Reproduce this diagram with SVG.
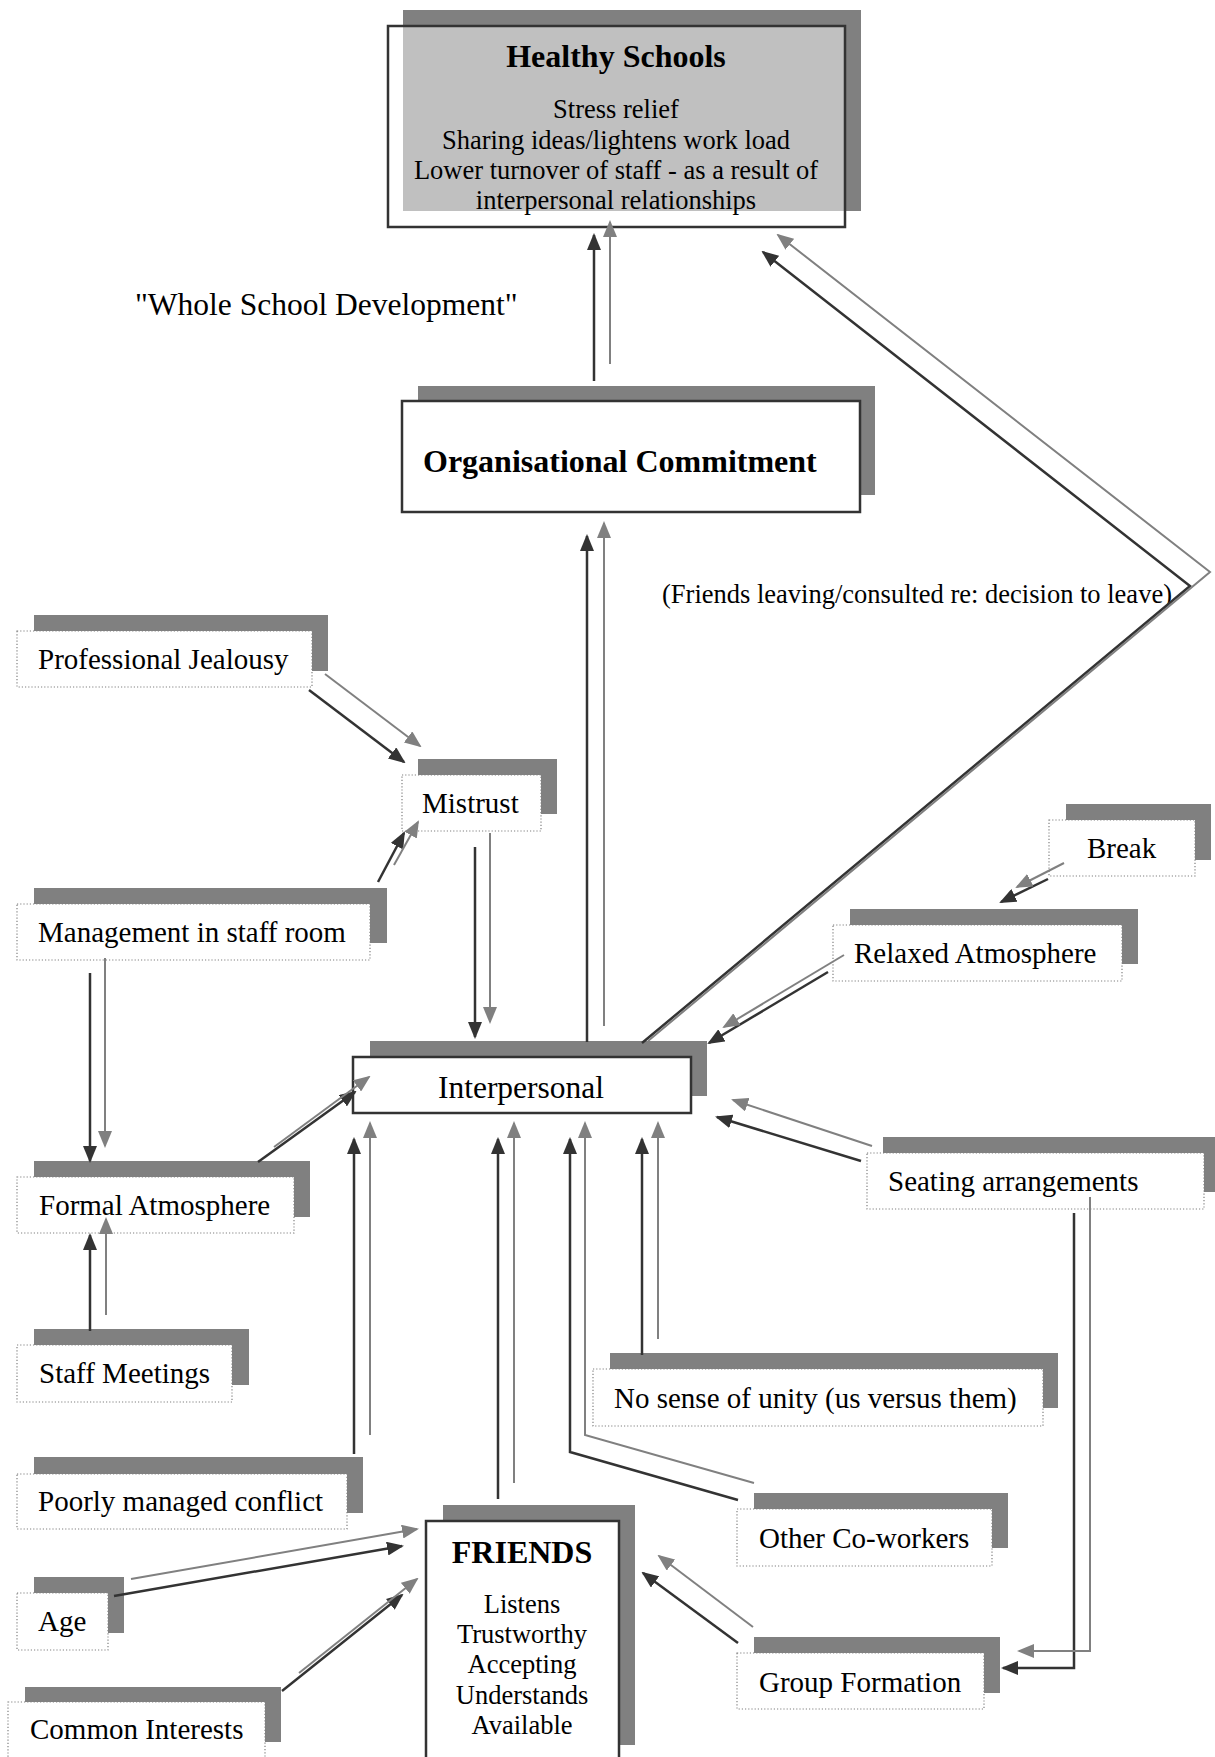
<svg xmlns="http://www.w3.org/2000/svg" width="1215" height="1757" viewBox="0 0 1215 1757">
  <style>
    .shadow { fill: #808080; }
    .box { fill: #ffffff; stroke: #808080; stroke-width: 1.2; stroke-dasharray: 1.2 2; }
    .main { fill: #ffffff; stroke: #333333; stroke-width: 2.5; }
    .outline { fill: none; stroke: #333333; stroke-width: 2.5; }
    text { font-family: "Liberation Serif", "Times New Roman", serif; fill: #000000; }
    .lbl { font-size: 29px; }
    .sm { font-size: 26.5px; }
    .big { font-size: 31.5px; }
    .title { font-size: 32px; font-weight: bold; }
    .mid { text-anchor: middle; }
    .dk { fill: none; stroke: #333333; stroke-width: 2.5; marker-end: url(#ahd); }
    .gr { fill: none; stroke: #808080; stroke-width: 2; marker-end: url(#ahg); }
  </style>
  <defs>
    <marker id="ahd" markerUnits="userSpaceOnUse" markerWidth="17" markerHeight="14" refX="15" refY="7" orient="auto">
      <path d="M0,0 L17,7 L0,14 z" fill="#333333"/>
    </marker>
    <marker id="ahg" markerUnits="userSpaceOnUse" markerWidth="17" markerHeight="14" refX="15" refY="7" orient="auto">
      <path d="M0,0 L17,7 L0,14 z" fill="#808080"/>
    </marker>
  </defs>

  <rect width="1215" height="1757" fill="#ffffff"/>

  <!-- top outcome -->
  <g id="healthy-schools">
    <rect class="shadow" x="403" y="10" width="458" height="201"/>
    <rect x="388" y="26" width="457" height="201" fill="#ffffff"/>
    <rect x="403" y="26" width="442" height="185" fill="#c0c0c0"/>
    <rect class="outline" x="388" y="26" width="457" height="201"/>
    <text class="title mid" x="616" y="67">Healthy Schools</text>
    <text class="sm mid" x="616" y="118">Stress relief</text>
    <text class="sm mid" x="616" y="149">Sharing ideas/lightens work load</text>
    <text class="sm mid" x="616" y="179">Lower turnover of staff - as a result of</text>
    <text class="sm mid" x="616" y="209">interpersonal relationships</text>
  </g>

  <g id="whole-school-label">
    <text class="big" x="135" y="315">"Whole School Development"</text>
  </g>

  <g id="organisational-commitment">
    <rect class="shadow" x="418" y="386" width="457" height="109"/>
    <rect class="main" x="402" y="401" width="458" height="111"/>
    <text class="title" x="423" y="472">Organisational Commitment</text>
  </g>

  <g id="friends-leaving-label">
    <text class="sm" x="662" y="603">(Friends leaving/consulted re: decision to leave)</text>
  </g>

  <g id="professional-jealousy">
    <rect class="shadow" x="34" y="615" width="294" height="56"/>
    <rect class="box" x="17" y="631" width="295" height="56"/>
    <text class="lbl" x="38" y="669">Professional Jealousy</text>
  </g>

  <g id="mistrust">
    <rect class="shadow" x="418" y="759" width="139" height="55"/>
    <rect class="box" x="402" y="775" width="139" height="56"/>
    <text class="lbl" x="422" y="813">Mistrust</text>
  </g>

  <g id="management">
    <rect class="shadow" x="34" y="888" width="353" height="55"/>
    <rect class="box" x="17" y="904" width="353" height="56"/>
    <text class="lbl" x="38" y="942">Management in staff room</text>
  </g>

  <g id="break">
    <rect class="shadow" x="1066" y="804" width="145" height="56"/>
    <rect class="box" x="1049" y="820" width="146" height="56"/>
    <text class="lbl" x="1087" y="858">Break</text>
  </g>

  <g id="relaxed-atmosphere">
    <rect class="shadow" x="850" y="909" width="288" height="55"/>
    <rect class="box" x="833" y="925" width="289" height="56"/>
    <text class="lbl" x="854" y="963">Relaxed Atmosphere</text>
  </g>

  <g id="interpersonal">
    <rect class="shadow" x="370" y="1041" width="337" height="55"/>
    <rect class="main" x="353" y="1057" width="338" height="56"/>
    <text class="big mid" x="521" y="1098">Interpersonal</text>
  </g>

  <g id="formal-atmosphere">
    <rect class="shadow" x="34" y="1161" width="276" height="56"/>
    <rect class="box" x="17" y="1177" width="277" height="56"/>
    <text class="lbl" x="39" y="1215">Formal Atmosphere</text>
  </g>

  <g id="seating-arrangements">
    <rect class="shadow" x="883" y="1137" width="332" height="55"/>
    <rect class="box" x="867" y="1153" width="337" height="56"/>
    <text class="lbl" x="888" y="1191">Seating arrangements</text>
  </g>

  <g id="staff-meetings">
    <rect class="shadow" x="34" y="1329" width="215" height="56"/>
    <rect class="box" x="17" y="1345" width="215" height="57"/>
    <text class="lbl" x="39" y="1383">Staff Meetings</text>
  </g>

  <g id="no-sense-of-unity">
    <rect class="shadow" x="610" y="1353" width="448" height="55"/>
    <rect class="box" x="593" y="1369" width="450" height="57"/>
    <text class="lbl" x="614" y="1408">No sense of unity (us versus them)</text>
  </g>

  <g id="poorly-managed-conflict">
    <rect class="shadow" x="34" y="1457" width="329" height="56"/>
    <rect class="box" x="17" y="1474" width="330" height="55"/>
    <text class="lbl" x="38" y="1511">Poorly managed conflict</text>
  </g>

  <g id="other-co-workers">
    <rect class="shadow" x="754" y="1493" width="254" height="55"/>
    <rect class="box" x="737" y="1509" width="255" height="57"/>
    <text class="lbl" x="759" y="1548">Other Co-workers</text>
  </g>

  <g id="friends">
    <rect class="shadow" x="443" y="1505" width="192" height="240"/>
    <rect class="main" x="426" y="1521" width="193" height="245"/>
    <text class="title mid" x="522" y="1563">FRIENDS</text>
    <text class="sm mid" x="522" y="1613">Listens</text>
    <text class="sm mid" x="522" y="1643">Trustworthy</text>
    <text class="sm mid" x="522" y="1673">Accepting</text>
    <text class="sm mid" x="522" y="1704">Understands</text>
    <text class="sm mid" x="522" y="1734">Available</text>
  </g>

  <g id="age">
    <rect class="shadow" x="34" y="1577" width="90" height="56"/>
    <rect class="box" x="17" y="1593" width="91" height="57"/>
    <text class="lbl" x="38" y="1631">Age</text>
  </g>

  <g id="group-formation">
    <rect class="shadow" x="754" y="1637" width="246" height="56"/>
    <rect class="box" x="737" y="1653" width="247" height="56"/>
    <text class="lbl" x="759" y="1692">Group Formation</text>
  </g>

  <g id="common-interests">
    <rect class="shadow" x="25" y="1687" width="256" height="55"/>
    <rect class="box" x="8" y="1702" width="257" height="60"/>
    <text class="lbl" x="30" y="1739">Common Interests</text>
  </g>

  <!-- connectors: dark and grey arrow pairs -->
  <g id="connectors">
    <line class="dk" x1="594" y1="381" x2="594" y2="235"/>
    <line class="gr" x1="610" y1="364" x2="610" y2="222"/>

    <line class="dk" x1="587" y1="1042" x2="587" y2="536"/>
    <line class="gr" x1="604" y1="1026" x2="604" y2="523"/>

    <polyline class="dk" points="642,1043 1190,586 763,252"/>
    <polyline class="gr" points="648,1041 1210,572 778,235"/>

    <line class="dk" x1="309" y1="690" x2="404" y2="762"/>
    <line class="gr" x1="325" y1="674" x2="420" y2="746"/>

    <line class="dk" x1="378" y1="882" x2="404" y2="833"/>
    <line class="gr" x1="394" y1="865" x2="418" y2="822"/>

    <line class="dk" x1="475" y1="847" x2="475" y2="1037"/>
    <line class="gr" x1="490" y1="833" x2="490" y2="1022"/>

    <line class="dk" x1="90" y1="973" x2="90" y2="1161"/>
    <line class="gr" x1="105" y1="958" x2="105" y2="1146"/>

    <line class="dk" x1="90" y1="1331" x2="90" y2="1235"/>
    <line class="gr" x1="106" y1="1315" x2="106" y2="1219"/>

    <line class="dk" x1="258" y1="1162" x2="355" y2="1092"/>
    <line class="gr" x1="274" y1="1147" x2="369" y2="1077"/>

    <line class="dk" x1="354" y1="1454" x2="354" y2="1139"/>
    <line class="gr" x1="370" y1="1435" x2="370" y2="1123"/>

    <line class="dk" x1="498" y1="1499" x2="498" y2="1139"/>
    <line class="gr" x1="514" y1="1483" x2="514" y2="1123"/>

    <polyline class="dk" points="738,1500 570,1452 570,1139"/>
    <polyline class="gr" points="754,1483 585,1435 585,1123"/>

    <line class="dk" x1="642" y1="1355" x2="642" y2="1139"/>
    <line class="gr" x1="658" y1="1339" x2="658" y2="1123"/>

    <line class="dk" x1="861" y1="1161" x2="717" y2="1117"/>
    <line class="gr" x1="872" y1="1146" x2="733" y2="1100"/>

    <line class="dk" x1="828" y1="972" x2="709" y2="1043"/>
    <line class="gr" x1="844" y1="955" x2="724" y2="1027"/>

    <line class="dk" x1="1048" y1="879" x2="1001" y2="902"/>
    <line class="gr" x1="1064" y1="863" x2="1017" y2="887"/>

    <polyline class="dk" points="1074,1213 1074,1668 1003,1668"/>
    <polyline class="gr" points="1090,1197 1090,1651 1019,1651"/>

    <line class="dk" x1="738" y1="1643" x2="643" y2="1573"/>
    <line class="gr" x1="753" y1="1627" x2="659" y2="1556"/>

    <line class="dk" x1="114" y1="1596" x2="402" y2="1546"/>
    <line class="gr" x1="131" y1="1579" x2="417" y2="1529"/>

    <line class="dk" x1="282" y1="1691" x2="402" y2="1595"/>
    <line class="gr" x1="299" y1="1673" x2="417" y2="1579"/>
  </g>
</svg>
